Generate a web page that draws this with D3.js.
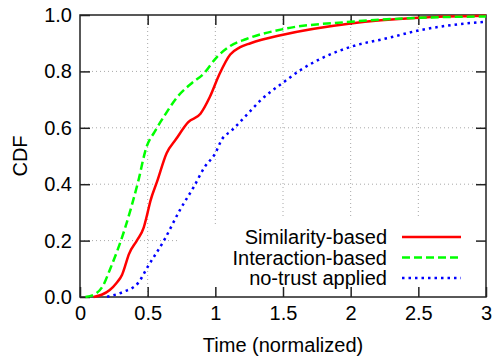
<!DOCTYPE html>
<html><head><meta charset="utf-8">
<script src="https://cdn.jsdelivr.net/npm/d3@7"></script>
<style>body{margin:0;background:#fff}svg{display:block}text{font-family:"Liberation Sans",Arial,sans-serif;fill:#000}</style>
</head><body><svg id="c" width="492" height="360"></svg>
<script>
const xTicks = [0, 0.5, 1, 1.5, 2, 2.5, 3];
const xTickLabels = ["0", "0.5", "1", "1.5", "2", "2.5", "3"];
const yTicks = [0, 0.2, 0.4, 0.6, 0.8, 1.0];
const yTickLabels = ["0.0", "0.2", "0.4", "0.6", "0.8", "1.0"];
const seriesNames = ["Similarity-based", "Interaction-based", "no-trust applied"];

const simT = [0.1, 0.16, 0.22, 0.27, 0.31, 0.34, 0.36, 0.42, 0.47, 0.5, 0.52, 0.57, 0.64, 0.71, 0.8, 0.89, 0.96, 1.03, 1.11, 1.18, 1.26, 1.5, 2.0, 2.5, 3.0];
const simV = [0, 0.008, 0.025, 0.05, 0.078, 0.12, 0.15, 0.2, 0.245, 0.3, 0.34, 0.41, 0.51, 0.56, 0.62, 0.65, 0.71, 0.79, 0.86, 0.885, 0.9, 0.93, 0.97, 0.99, 0.997];

const intT = [0.04, 0.12, 0.17, 0.22, 0.33, 0.43, 0.49, 0.55, 0.62, 0.72, 0.83, 0.91, 1.01, 1.11, 1.23, 1.5, 2.0, 2.5, 3.0];
const intV = [0, 0.013, 0.04, 0.096, 0.24, 0.41, 0.53, 0.585, 0.64, 0.71, 0.76, 0.79, 0.85, 0.89, 0.915, 0.95, 0.976, 0.99, 0.995];

const noT = [0.2, 0.32, 0.43, 0.5, 0.62, 0.74, 0.84, 0.92, 1.0, 1.05, 1.12, 1.23, 1.34, 1.5, 1.63, 1.8, 2.0, 2.29, 2.5, 2.76, 3.0];
const noV = [0.001, 0.018, 0.05, 0.107, 0.2, 0.31, 0.39, 0.46, 0.51, 0.56, 0.59, 0.645, 0.70, 0.76, 0.805, 0.85, 0.887, 0.92, 0.945, 0.965, 0.976];

const colors = ["#ff0000", "#00ff00", "#0000ff"];
const dashes = [null, "8,4", "2.5,4"];

const svg = d3.select("#c");
const L = 80, R = 486, T = 15, B = 297;
const FS = 20;
const x = d3.scaleLinear().domain([0, 3]).range([L, R]);
const y = d3.scaleLinear().domain([0, 1]).range([B, T]);

// grid
const g = svg.append("g");
xTicks.slice(1, -1).forEach(t => g.append("line").attr("x1", x(t)).attr("x2", x(t)).attr("y1", T).attr("y2", B)
  .attr("stroke", "#a8a8a8").attr("stroke-width", 1).attr("stroke-dasharray", "1,3"));
yTicks.slice(1, -1).forEach(t => g.append("line").attr("x1", L).attr("x2", R).attr("y1", y(t)).attr("y2", y(t))
  .attr("stroke", "#a8a8a8").attr("stroke-width", 1).attr("stroke-dasharray", "1,3"));
// opaque key area
svg.append("rect").attr("x", 179).attr("y", 226).attr("width", R - 179).attr("height", B - 226).attr("fill", "#fff");
svg.append("rect").attr("x", 222).attr("y", 216).attr("width", R - 222).attr("height", B - 216).attr("fill", "#fff");

// axes with inward ticks
const fmtX = d => xTickLabels[xTicks.indexOf(d)];
const fmtY = d => yTickLabels[yTicks.findIndex(v => Math.abs(v - d) < 1e-9)];
const ax = svg.append("g").attr("transform", `translate(0,${B})`)
  .call(d3.axisBottom(x).tickValues(xTicks).tickFormat(fmtX).tickSizeInner(-10).tickSizeOuter(0).tickPadding(9));
const at = svg.append("g").attr("transform", `translate(0,${T})`)
  .call(d3.axisTop(x).tickValues(xTicks.slice(1, -1)).tickFormat("").tickSizeInner(-10).tickSizeOuter(0));
const ay = svg.append("g").attr("transform", `translate(${L},0)`)
  .call(d3.axisLeft(y).tickValues(yTicks).tickFormat(fmtY).tickSizeInner(-10).tickSizeOuter(0).tickPadding(8));
const ar = svg.append("g").attr("transform", `translate(${R},0)`)
  .call(d3.axisRight(y).tickValues(yTicks.slice(1, -1)).tickFormat("").tickSizeInner(-10).tickSizeOuter(0));
[ax, at, ay, ar].forEach(a => {
  a.select(".domain").remove();
  a.selectAll("line").attr("stroke", "#222").attr("stroke-width", 1.5);
  a.selectAll("text").attr("font-size", FS).attr("font-family", '"Liberation Sans",Arial,sans-serif').attr("fill", "#000");
});
svg.append("rect").attr("x", L).attr("y", T).attr("width", R - L).attr("height", B - T)
  .attr("fill", "none").attr("stroke", "#222").attr("stroke-width", 1.5);

// curves
const data = [[simT, simV], [intT, intV], [noT, noV]];
const line = d3.line().x(d => x(d[0])).y(d => y(d[1])).curve(d3.curveMonotoneX);
data.forEach(([ts, vs], i) => {
  const pts = ts.map((t, j) => [t, vs[j]]);
  svg.append("path").attr("d", line(pts)).attr("fill", "none").attr("stroke", colors[i])
    .attr("stroke-width", 2.5).attr("stroke-dasharray", dashes[i]);
});

// legend
const legY = [237, 257.5, 278];
seriesNames.forEach((n, i) => {
  svg.append("text").attr("x", 387).attr("y", legY[i]).attr("dy", "0.35em").attr("text-anchor", "end")
    .attr("font-size", FS).text(n);
  svg.append("line").attr("x1", 402).attr("x2", 461).attr("y1", legY[i]).attr("y2", legY[i])
    .attr("stroke", colors[i]).attr("stroke-width", 2.5).attr("stroke-dasharray", dashes[i]);
});

// titles
svg.append("text").attr("x", 283).attr("y", 345).attr("dy", "0.35em").attr("text-anchor", "middle").attr("font-size", FS).text("Time (normalized)");
svg.append("text").attr("transform", "translate(20,156) rotate(-90)").attr("dy", "0.35em").attr("text-anchor", "middle").attr("font-size", FS).text("CDF");
</script></body></html>
